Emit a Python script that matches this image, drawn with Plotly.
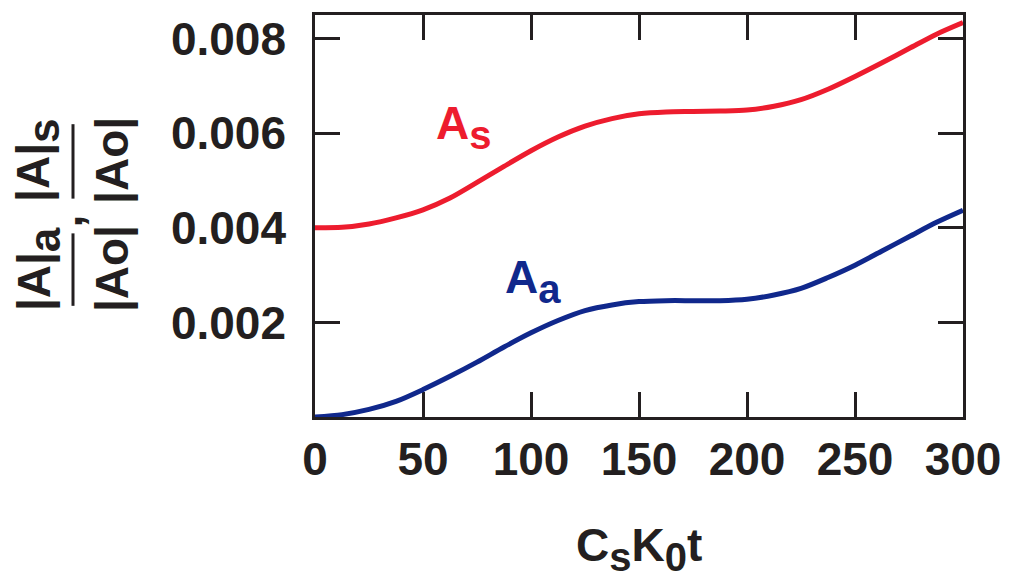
import plotly.graph_objects as go

# Data
t_vals = [0, 12.5, 25, 37.5, 50, 62.5, 75, 87.5, 100, 112.5, 125, 137.5, 150,
          162.5, 175, 187.5, 200, 212.5, 225, 237.5, 250, 262.5, 275, 287.5, 300]
A_s = [0.00400, 0.00401, 0.00408, 0.00421, 0.00438, 0.00463, 0.00496, 0.00530,
       0.00563, 0.00592, 0.00615, 0.00631, 0.00641, 0.00645, 0.00646, 0.00647,
       0.00649, 0.00657, 0.00671, 0.00693, 0.00720, 0.00749, 0.00779, 0.00809,
       0.00834]
A_a = [0.00000, 0.00005, 0.00016, 0.00033, 0.00058, 0.00086, 0.00116, 0.00148,
       0.00178, 0.00204, 0.00225, 0.00237, 0.00244, 0.00246, 0.00246, 0.00246,
       0.00249, 0.00258, 0.00272, 0.00295, 0.00321, 0.00351, 0.00381, 0.00411,
       0.00437]
x_ticks = [0, 50, 100, 150, 200, 250, 300]
y_ticks = [0.002, 0.004, 0.006, 0.008]
y_tick_text = ["0.002", "0.004", "0.006", "0.008"]

RED = "#ED1C2E"
BLUE = "#10288C"
DARK = "#231F20"
FONT = "Liberation Sans"

W, H = 1014, 574
OFF = 8  # default body margin of the html page
L, R, T, B = 315, 963, 12, 417  # plot area in page pixels


def px(xp):
    return (xp - L) / (R - L)


def py(yp):
    return (B - yp) / (B - T)


def sub(s, size=40):
    return '<sub><span style="font-size:%dpx">%s</span></sub>' % (size, s)


fig = go.Figure()
fig.add_trace(go.Scatter(x=t_vals, y=A_s, mode="lines",
                         line=dict(color=RED, width=5, shape="spline", smoothing=0.8),
                         hoverinfo="skip", showlegend=False))
fig.add_trace(go.Scatter(x=t_vals, y=A_a, mode="lines",
                         line=dict(color=BLUE, width=5, shape="spline", smoothing=0.8),
                         hoverinfo="skip", showlegend=False))

axis_common = dict(showgrid=False, zeroline=False, showline=True, linecolor=DARK,
                   linewidth=2.5, ticks="inside", ticklen=25, tickwidth=2.5,
                   tickcolor=DARK, mirror="ticks", layer="below traces",
                   tickfont=dict(family=FONT, size=46, color=DARK, weight="bold"))

fig.update_xaxes(range=[0, 300], tickvals=x_ticks,
                 ticktext=[str(v) for v in x_ticks], ticklabelstandoff=0,
                 **axis_common)
fig.update_yaxes(range=[0, 0.0085], tickvals=y_ticks, ticktext=y_tick_text,
                 ticklabelstandoff=17, **axis_common)

ann_font = dict(family=FONT, size=46, color=DARK, weight="bold")
annotations = [
    # curve labels
    dict(x=55, y=0.00613, xref="x", yref="y", text="A" + sub("s"), showarrow=False,
         xanchor="left", yanchor="middle",
         font=dict(family=FONT, size=46, color=RED, weight="bold")),
    dict(x=87, y=0.00287, xref="x", yref="y", text="A" + sub("a"), showarrow=False,
         xanchor="left", yanchor="middle",
         font=dict(family=FONT, size=46, color=BLUE, weight="bold")),
    # x-axis title
    dict(x=0.5, y=py(550), xref="paper", yref="paper",
         text="C" + sub("s") + "K" + sub("0") + "t",
         showarrow=False, xanchor="center", yanchor="middle", font=ann_font),
    # y-axis title: two fractions
    dict(x=px(38), y=py(159), xref="paper", yref="paper", text="|A|" + sub("s", 44),
         showarrow=False, textangle=-90, xanchor="center", yanchor="middle", font=ann_font),
    dict(x=px(112), y=py(159), xref="paper", yref="paper", text="|Ao|",
         showarrow=False, textangle=-90, xanchor="center", yanchor="middle", font=ann_font),
    dict(x=px(38), y=py(268), xref="paper", yref="paper", text="|A|" + sub("a", 44),
         showarrow=False, textangle=-90, xanchor="center", yanchor="middle", font=ann_font),
    dict(x=px(112), y=py(268), xref="paper", yref="paper", text="|Ao|",
         showarrow=False, textangle=-90, xanchor="center", yanchor="middle", font=ann_font),
    dict(x=px(66), y=py(220), xref="paper", yref="paper", text=",",
         showarrow=False, textangle=-90, xanchor="center", yanchor="middle", font=ann_font),
]

shapes = [
    dict(type="line", xref="paper", yref="paper", x0=px(73), x1=px(73),
         y0=py(122), y1=py(197), line=dict(color=DARK, width=3)),
    dict(type="line", xref="paper", yref="paper", x0=px(73), x1=px(73),
         y0=py(232), y1=py(305), line=dict(color=DARK, width=3)),
]

fig.update_layout(width=W - OFF, height=H - OFF, autosize=False,
                  margin=dict(l=L - OFF, r=W - R, t=T - OFF, b=H - B, pad=0),
                  plot_bgcolor="white", paper_bgcolor="white",
                  annotations=annotations, shapes=shapes)

fig.write_html("out.html")
